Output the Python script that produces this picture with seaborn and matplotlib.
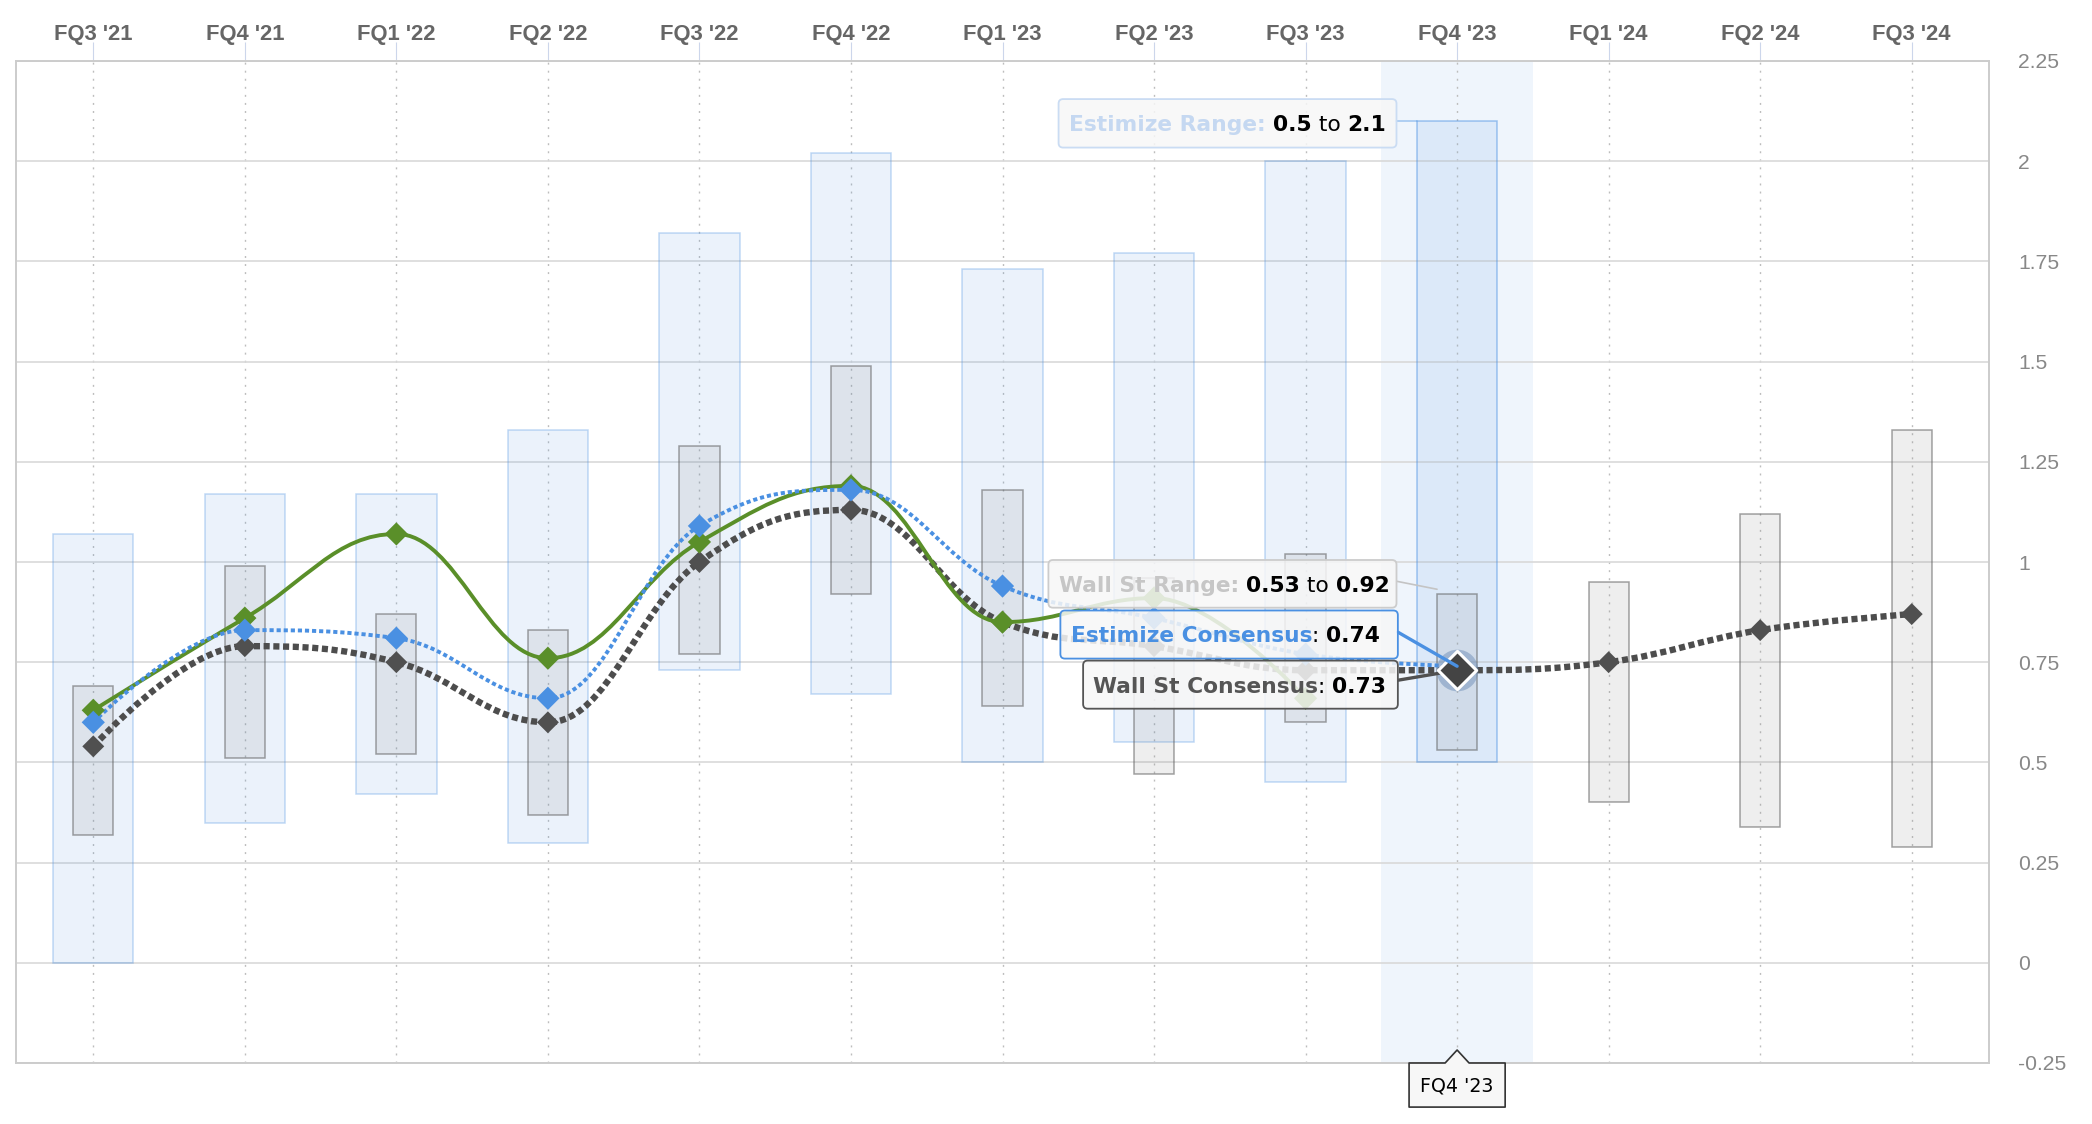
import numpy as np
import pandas as pd
import seaborn as sns
import matplotlib
matplotlib.use("Agg")
import matplotlib.pyplot as plt
from matplotlib.path import Path
from matplotlib.patches import PathPatch, FancyBboxPatch, Polygon
from matplotlib.offsetbox import TextArea, HPacker, AnnotationBbox

# ---------------- data ----------------
quarters = ["FQ3 '21", "FQ4 '21", "FQ1 '22", "FQ2 '22", "FQ3 '22", "FQ4 '22", "FQ1 '23",
            "FQ2 '23", "FQ3 '23", "FQ4 '23", "FQ1 '24", "FQ2 '24", "FQ3 '24"]
estimize_low = [0.00, 0.35, 0.42, 0.30, 0.73, 0.67, 0.50, 0.55, 0.45, 0.50]
estimize_high = [1.07, 1.17, 1.17, 1.33, 1.82, 2.02, 1.73, 1.77, 2.00, 2.10]
wallst_low = [0.32, 0.51, 0.52, 0.37, 0.77, 0.92, 0.64, 0.47, 0.60, 0.53, 0.40, 0.34, 0.29]
wallst_high = [0.69, 0.99, 0.87, 0.83, 1.29, 1.49, 1.18, 0.96, 1.02, 0.92, 0.95, 1.12, 1.33]
wallst_consensus = [0.54, 0.79, 0.75, 0.60, 1.00, 1.13, 0.85, 0.79, 0.73, 0.73, 0.75, 0.83, 0.87]
estimize_consensus = [0.60, 0.83, 0.81, 0.66, 1.09, 1.18, 0.94, 0.86, 0.77, 0.74]
actual_eps = [0.63, 0.86, 1.07, 0.76, 1.05, 1.19, 0.85, 0.91, 0.66]
y_ticks = [-0.25, 0, 0.25, 0.5, 0.75, 1, 1.25, 1.5, 1.75, 2, 2.25]
y_tick_labels = ["-0.25", "0", "0.25", "0.5", "0.75", "1", "1.25", "1.5", "1.75", "2", "2.25"]
highlight_quarter = "FQ4 '23"

# ---------------- style ----------------
sns.set_theme(style="white")
plt.rcParams["lines.scale_dashes"] = False
plt.rcParams["font.family"] = ["DejaVu Sans"]

BLUE = "#4a90e2"
GREEN = "#5a8f29"
DARK = "#4d4d4d"
blue_rgb = (74 / 255, 144 / 255, 226 / 255)

fig = plt.figure(figsize=(20.92, 11.24), dpi=100)
ax = fig.add_axes([16 / 2092, 1 - 1063 / 1124, (1989 - 16) / 2092, (1063 - 61) / 1124])
ax.set_facecolor("white")

pos = np.arange(len(quarters))
idx = quarters.index(highlight_quarter)

# highlight band
ax.axvspan(idx - 0.5, idx + 0.5, color=blue_rgb + (0.085,), lw=0, zorder=0.2)

# Estimize range boxes
ne = len(estimize_low)
e_low = np.array(estimize_low)
e_high = np.array(estimize_high)
e_edges = [blue_rgb + ((0.5 if i == idx else 0.33),) for i in range(ne)]
ax.bar(pos[:ne], e_high - e_low, bottom=e_low, width=0.53,
       color=blue_rgb + (0.11,), edgecolor=e_edges, linewidth=1.1, zorder=1)

# Wall St range boxes
w_low = np.array(wallst_low)
w_high = np.array(wallst_high)
ax.bar(pos, w_high - w_low, bottom=w_low, width=0.265,
       color=(0.5, 0.5, 0.5, 0.13), edgecolor=(0.35, 0.35, 0.35, 0.55), linewidth=1.1, zorder=2)


# spline path (Highcharts-style smoothing) through the data points
def spline_path(xs, ys):
    n = len(xs)
    verts = [(xs[0], ys[0])]
    codes = [Path.MOVETO]
    rc = [None] * n
    sm = 1.5
    den = sm + 1
    for i in range(1, n):
        px, py = xs[i], ys[i]
        lc = (px, py)
        if i < n - 1:
            lx, ly = xs[i - 1], ys[i - 1]
            nx, ny = xs[i + 1], ys[i + 1]
            lcx = (sm * px + lx) / den
            lcy = (sm * py + ly) / den
            rcx = (sm * px + nx) / den
            rcy = (sm * py + ny) / den
            corr = ((rcy - lcy) * (rcx - px)) / (rcx - lcx) + py - rcy
            lcy += corr
            rcy += corr
            if lcy > ly and lcy > py:
                lcy = max(ly, py); rcy = 2 * py - lcy
            elif lcy < ly and lcy < py:
                lcy = min(ly, py); rcy = 2 * py - lcy
            if rcy > ny and rcy > py:
                rcy = max(ny, py); lcy = 2 * py - rcy
            elif rcy < ny and rcy < py:
                rcy = min(ny, py); lcy = 2 * py - rcy
            lc = (lcx, lcy)
            rc[i] = (rcx, rcy)
        prev = rc[i - 1] if rc[i - 1] is not None else (xs[i - 1], ys[i - 1])
        verts += [prev, lc, (px, py)]
        codes += [Path.CURVE4] * 3
    return Path(verts, codes)


ws_path = spline_path(pos, wallst_consensus)
ax.add_patch(PathPatch(ws_path, fill=False, edgecolor=DARK, lw=4.6,
                       linestyle=(0, (4.4, 2.6)), capstyle="butt", zorder=3))
gr_path = spline_path(pos[:len(actual_eps)], actual_eps)
ax.add_patch(PathPatch(gr_path, fill=False, edgecolor=GREEN, lw=2.8,
                       joinstyle="round", capstyle="round", zorder=4))
es_path = spline_path(pos[:len(estimize_consensus)], estimize_consensus)
ax.add_patch(PathPatch(es_path, fill=False, edgecolor=BLUE, lw=2.8,
                       linestyle=(0, (3.0, 2.1)), capstyle="butt", zorder=5))

# markers
sns.scatterplot(x=pos, y=wallst_consensus, marker="D", s=125, color="#505050",
                edgecolor="none", ax=ax, zorder=6, legend=False)
sns.scatterplot(x=pos[:len(actual_eps)], y=actual_eps, marker="D", s=140, color=GREEN,
                edgecolor="none", ax=ax, zorder=6.2, legend=False)
sns.scatterplot(x=pos[:len(estimize_consensus)], y=estimize_consensus, marker="D", s=140,
                color=BLUE, edgecolor="none", ax=ax, zorder=6.4, legend=False)

# hover state
ax.scatter([idx], [wallst_consensus[idx]], s=900, color="#6f8fb8", alpha=0.5, lw=0, zorder=6.6)
ax.plot([8.609, idx], [0.705, wallst_consensus[idx]], color="#505050", lw=2.4, zorder=6.7,
        solid_capstyle="butt")
sns.scatterplot(x=[idx], y=[wallst_consensus[idx]], marker="D", s=380, color="#444444",
                edgecolor="white", linewidth=2.2, ax=ax, zorder=6.8, legend=False)
ax.plot([8.609, idx], [0.825, estimize_consensus[idx]], color=BLUE, lw=2.4, zorder=6.9,
        solid_capstyle="round")

# range connectors (under the boxes)
ax.plot([8.60, idx - 0.265], [estimize_high[idx], estimize_high[idx]], color=blue_rgb + (0.45,),
        lw=1.2, zorder=0.9)
ax.plot([8.60, idx - 0.1325], [0.952, 0.932], color="#c4c4c4", lw=1.2, zorder=1.5)

# ---------------- tooltips ----------------
ASPECT = (1 / 400.8) / (1 / 151.5)


def tooltip(x0, x1, y0, y1, pieces, edge, size=15.7):
    box = FancyBboxPatch((x0, y0), x1 - x0, y1 - y0,
                         boxstyle="round,pad=0,rounding_size=0.03", mutation_aspect=ASPECT,
                         facecolor=(0.969, 0.969, 0.969, 0.86), edgecolor=edge, lw=1.3,
                         zorder=8, clip_on=False)
    ax.add_patch(box)
    areas = [TextArea(t, textprops=dict(color=c, fontweight=w, fontsize=size,
                                        fontfamily="DejaVu Sans"))
             for t, c, w in pieces]
    pack = HPacker(children=areas, align="baseline", pad=0, sep=0)
    ab = AnnotationBbox(pack, (x0, (y0 + y1) / 2), xybox=(7.3, -1.4), xycoords="data",
                        boxcoords="offset points", box_alignment=(0, 0.5), frameon=False,
                        pad=0, zorder=9, annotation_clip=False)
    ax.add_artist(ab)


def fmt(v):
    return f"{v:g}"


tooltip(6.37, 8.60, 2.034, 2.155,
        [("Estimize Range: ", "#c5d8f1", "bold"), (fmt(estimize_low[idx]), "black", "bold"),
         (" to ", "black", "normal"), (fmt(estimize_high[idx]), "black", "bold")],
        "#cadcf3")
tooltip(6.303, 8.60, 0.886, 1.005,
        [("Wall St Range: ", "#c6c6c6", "bold"), (fmt(wallst_low[idx]), "black", "bold"),
         (" to ", "black", "normal"), (fmt(wallst_high[idx]), "black", "bold")],
        "#cccccc")
tooltip(6.382, 8.609, 0.759, 0.879,
        [("Estimize Consensus", BLUE, "bold"), (": ", "black", "normal"),
         (fmt(estimize_consensus[idx]), "black", "bold")],
        BLUE)
tooltip(6.532, 8.609, 0.634, 0.754,
        [("Wall St Consensus", "#555555", "bold"), (": ", "black", "normal"),
         (fmt(wallst_consensus[idx]), "black", "bold")],
        "#555555")

# bottom x tooltip
hw, ph = 0.317, 0.079
yt, yb, yp = -0.25, -0.36, -0.2176
poly = Polygon([(idx - hw, yt), (idx - ph, yt), (idx, yp), (idx + ph, yt), (idx + hw, yt),
                (idx + hw, yb), (idx - hw, yb)], closed=True, facecolor="#f7f7f7",
               edgecolor="#333333", lw=1.2, joinstyle="round", zorder=8, clip_on=False)
ax.add_patch(poly)
ax.text(idx, -0.308, highlight_quarter, ha="center", va="center", fontsize=13.7,
        color="black", fontfamily="DejaVu Sans", zorder=9, clip_on=False)

# ---------------- axes ----------------
ax.set_xlim(-0.51, 12.51)
ax.set_ylim(-0.25, 2.25)
ax.set_xticks(pos)
ax.set_xticklabels(quarters, fontfamily="Liberation Sans", fontweight="bold",
                   fontsize=15.8, color="#666666")
ax.xaxis.tick_top()
ax.tick_params(axis="x", which="both", top=True, bottom=False, length=13.7, width=0.8,
               color="#ccd6eb", pad=-2.0)
ax.set_yticks(y_ticks)
ax.set_yticklabels(y_tick_labels, fontfamily="Liberation Sans", fontsize=15.2, color="#888888")
ax.yaxis.tick_right()
ax.tick_params(axis="y", length=0, pad=21)

ax.set_axisbelow(True)
ax.grid(axis="y", color="#d9d9d9", linewidth=1.2, linestyle="-")
ax.grid(axis="x", color="#bdbdbd", linewidth=1.0, linestyle=(0, (1.4, 4.4)))
for s in ax.spines.values():
    s.set_color("#cccccc")
    s.set_linewidth(1.4)
    s.set_visible(True)

ax.set_xlabel("")
ax.set_ylabel("")
fig.savefig("out.png", dpi=100, facecolor="white")
